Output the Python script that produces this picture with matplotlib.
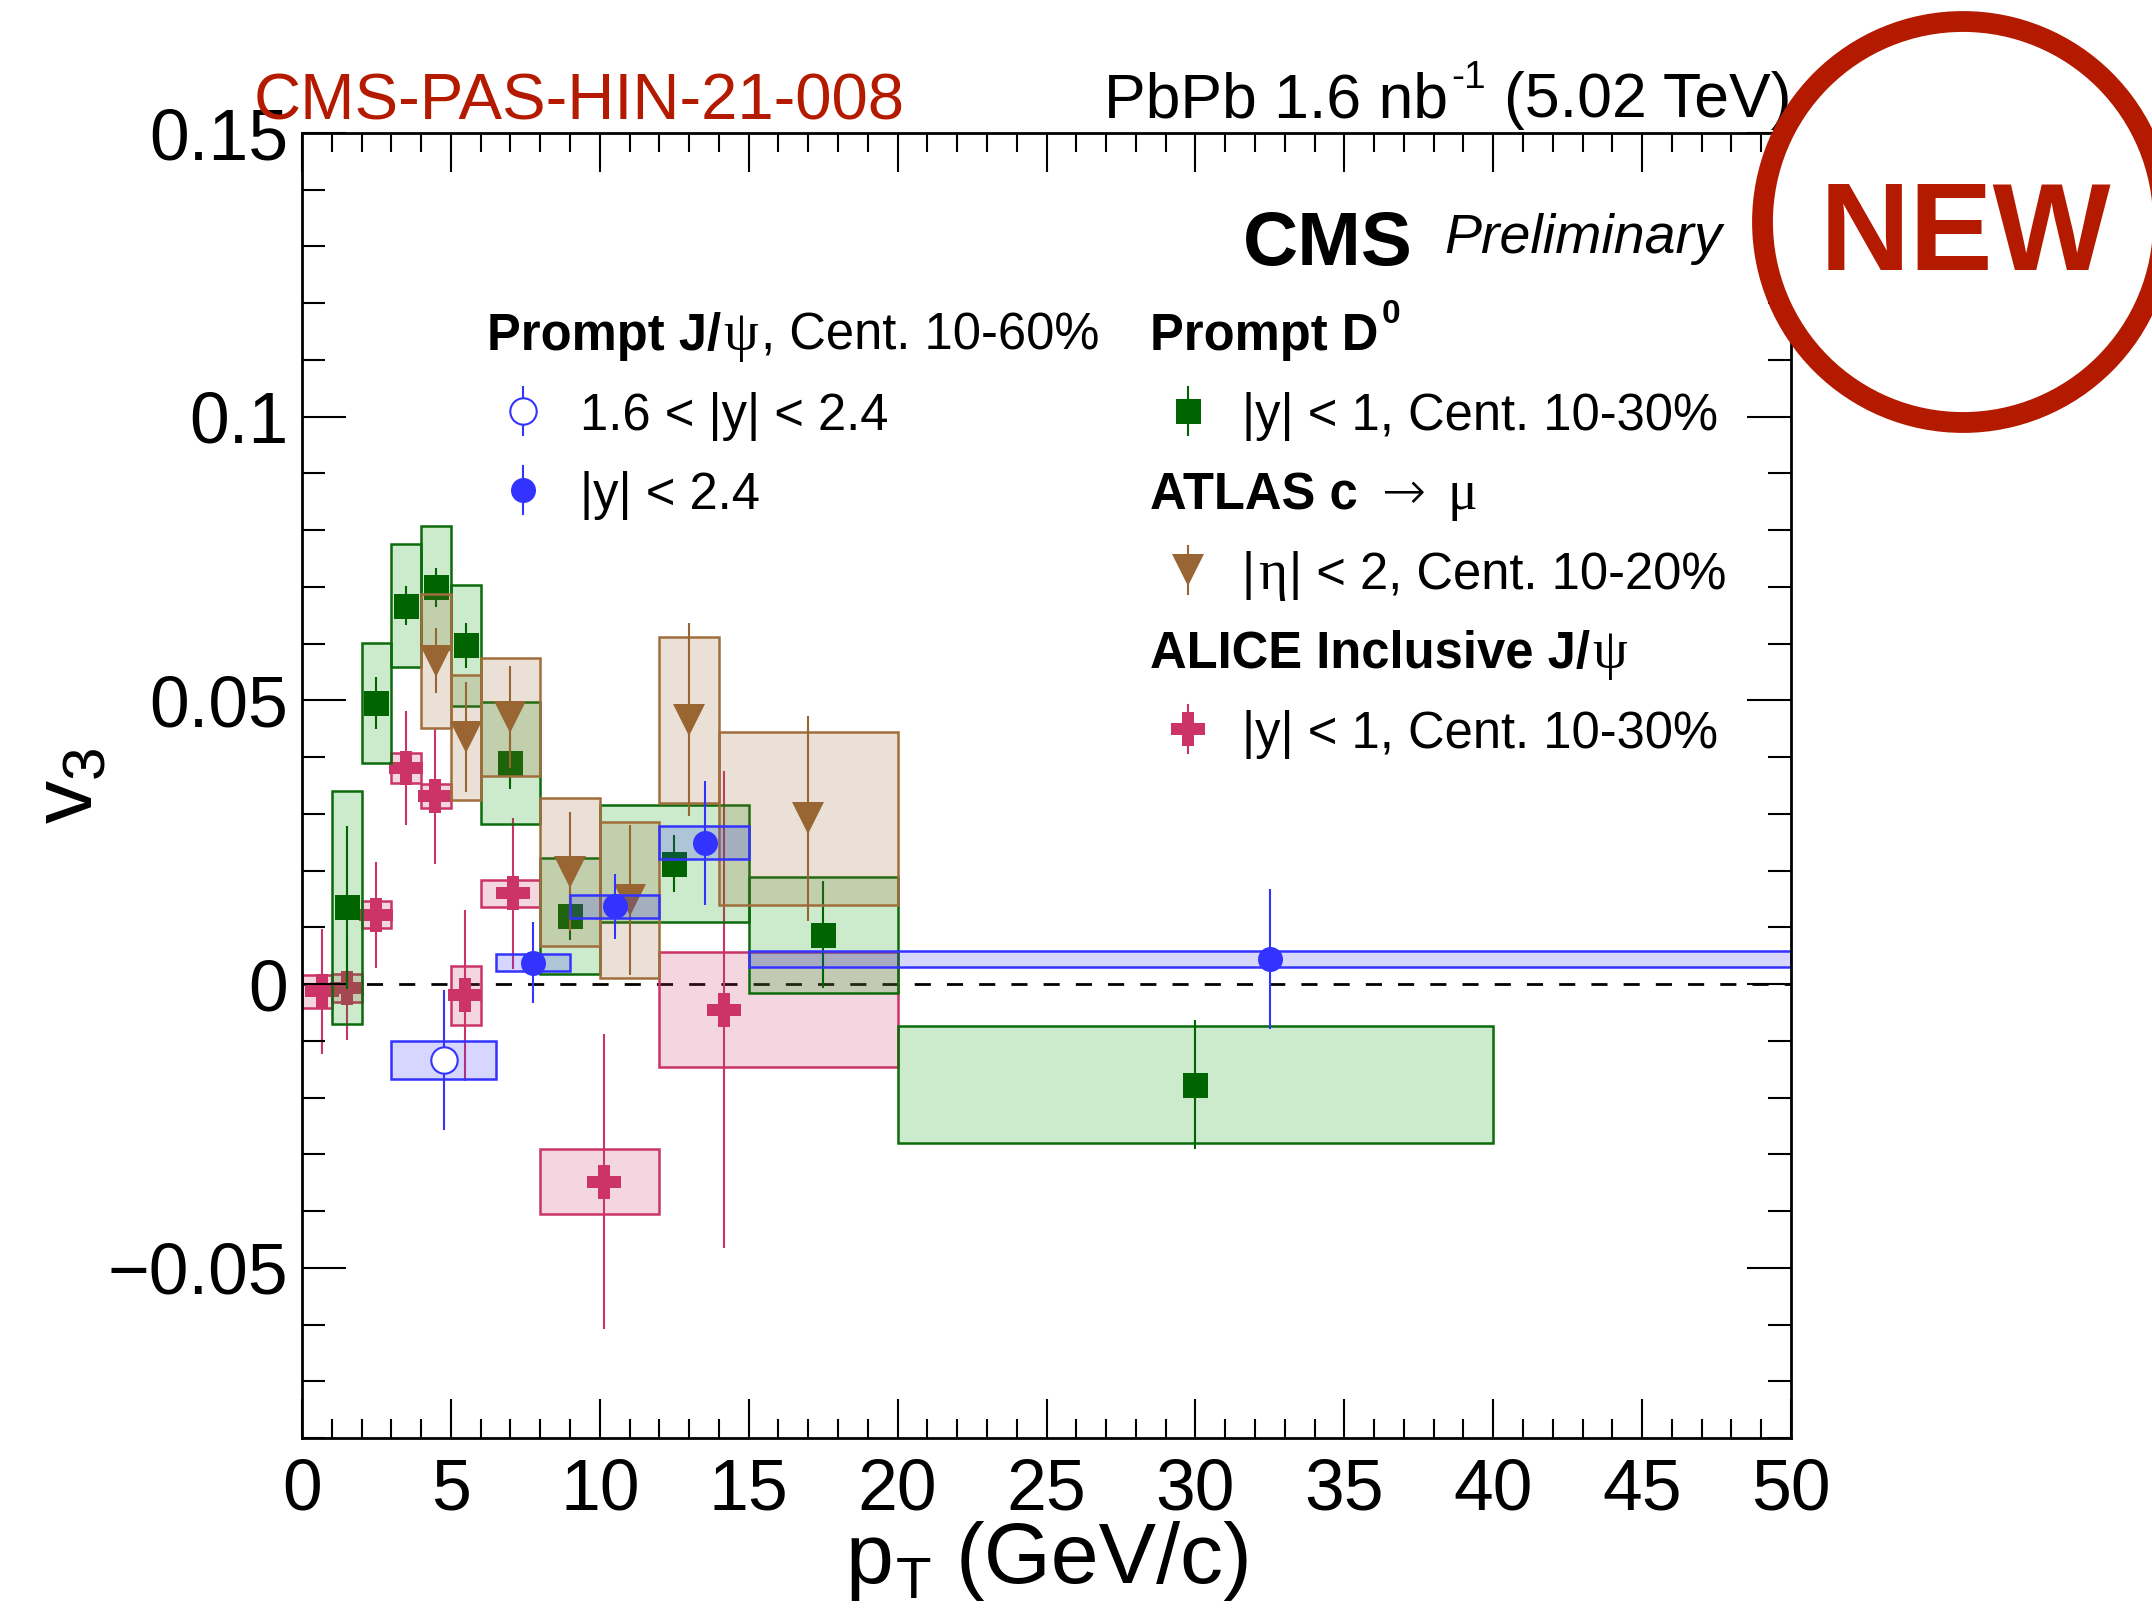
import numpy as np
import matplotlib
matplotlib.use("Agg")
import matplotlib.pyplot as plt
from matplotlib.patches import Circle
from matplotlib.ticker import MultipleLocator, FixedLocator, FixedFormatter

plt.rcParams['font.family'] = ['Liberation Sans', 'DejaVu Sans']
plt.rcParams['mathtext.fontset'] = 'custom'
plt.rcParams['mathtext.rm'] = 'Liberation Sans'
plt.rcParams['mathtext.it'] = 'Liberation Sans:italic'
plt.rcParams['mathtext.bf'] = 'Liberation Sans:bold'

# ---------------- data ----------------
# CMS prompt D0, |y| < 1, Cent. 10-30%
d0_pt = [1.5, 2.5, 3.5, 4.5, 5.5, 7.0, 9.0, 12.5, 17.5, 30.0]
d0_lo = [1, 2, 3, 4, 5, 6, 8, 10, 15, 20]
d0_hi = [2, 3, 4, 5, 6, 8, 10, 15, 20, 40]
d0_v3 = [0.0135, 0.0495, 0.0667, 0.0699, 0.0597, 0.0390, 0.0120, 0.0212, 0.0087, -0.0177]
d0_stat = [0.0143, 0.0046, 0.0034, 0.0035, 0.0040, 0.0046, 0.0043, 0.0050, 0.0094, 0.0114]
d0_syst = [0.0205, 0.0106, 0.0108, 0.0108, 0.0107, 0.0107, 0.0103, 0.0103, 0.0102, 0.0103]

# ATLAS c -> mu, |eta| < 2, Cent. 10-20%
mu_pt = [4.5, 5.5, 7.0, 9.0, 11.0, 13.0, 17.0]
mu_lo = [4, 5, 6, 8, 10, 12, 14]
mu_hi = [5, 6, 8, 10, 12, 14, 20]
mu_v3 = [0.0570, 0.0435, 0.0470, 0.0198, 0.0148, 0.0466, 0.0292]
mu_stat = [0.0057, 0.0097, 0.0090, 0.0105, 0.0132, 0.0170, 0.0180]
mu_syst = [0.0118, 0.0110, 0.0104, 0.0130, 0.0137, 0.0146, 0.0152]

# CMS prompt J/psi, |y| < 2.4, Cent. 10-60%
jp_pt = [7.77, 10.52, 13.52, 32.5]
jp_lo = [6.5, 9, 12, 15]
jp_hi = [9, 12, 15, 50]
jp_v3 = [0.0038, 0.0137, 0.0249, 0.0044]
jp_stat = [0.0072, 0.0057, 0.0109, 0.0124]
jp_syst = [0.0015, 0.0020, 0.0029, 0.0014]

# CMS prompt J/psi, 1.6 < |y| < 2.4, Cent. 10-60%
jpf_pt = [4.77]
jpf_lo = [3.0]
jpf_hi = [6.5]
jpf_v3 = [-0.0134]
jpf_stat = [0.0124]
jpf_syst = [0.0033]

# ALICE inclusive J/psi, |y| < 1, Cent. 10-30%
al_pt = [0.66, 1.5, 2.49, 3.48, 4.47, 5.47, 7.1, 10.14, 14.16]
al_lo = [0, 1, 2, 3, 4, 5, 6, 8, 12]
al_hi = [1, 2, 3, 4, 5, 6, 8, 12, 20]
al_v3 = [-0.0013, -0.0007, 0.0122, 0.0381, 0.0331, -0.0020, 0.0160, -0.0348, -0.0045]
al_stat = [0.0110, 0.0092, 0.0093, 0.0100, 0.0120, 0.0150, 0.0133, 0.0260, 0.0420]
al_syst = [0.0029, 0.0025, 0.0024, 0.0027, 0.0021, 0.0052, 0.0024, 0.0057, 0.0102]

x_ticks = [0, 5, 10, 15, 20, 25, 30, 35, 40, 45, 50]
x_ticklabels = ["0", "5", "10", "15", "20", "25", "30", "35", "40", "45", "50"]
y_ticks = [-0.05, 0.0, 0.05, 0.1, 0.15]
y_ticklabels = ["\u22120.05", "0", "0.05", "0.1", "0.15"]

# ---------------- style ----------------
GREEN = '#006400'
GREEN_EDGE = '#0b6b0b'
GREEN_FILL = (0.0, 0.6, 0.0, 0.2)
BROWN = '#996633'
BROWN_EDGE = '#a06e3c'
BROWN_FILL = (0.6, 0.4, 0.2, 0.2)
BLUE = '#3333ff'
BLUE_FILL = (0.2, 0.2, 1.0, 0.2)
PINK = '#cc3366'
PINK_FILL = (0.8, 0.2, 0.4, 0.2)
RED = '#b41a00'

W, H = 2152, 1613
fig = plt.figure(figsize=(W / 100, H / 100), dpi=100)
ax = fig.add_axes([302 / W, 1 - 1438 / H, (1791 - 302) / W, (1438 - 133) / H])
ax.set_xlim(0, 50)
ax.set_ylim(-0.08, 0.15)

ax.axhline(0, color='k', lw=2, ls=(0, (5.8, 5.8)), zorder=1)


def draw_series(pt, lo, hi, v, stat, syst, color, fill, edge, marker, ms, z,
                mfc=None, mew=0.0):
    lo = np.asarray(lo, float)
    hi = np.asarray(hi, float)
    v = np.asarray(v, float)
    syst = np.asarray(syst, float)
    ax.bar(lo, 2 * syst, width=hi - lo, bottom=v - syst, align='edge',
           color=fill, edgecolor=edge, linewidth=1.8, zorder=z)
    ax.errorbar(pt, v, yerr=stat, fmt='none', ecolor=color, elinewidth=1.5,
                capsize=0, zorder=z + 0.1)
    ax.plot(pt, v, ls='none', marker=marker, ms=ms, color=color,
            mfc=mfc if mfc is not None else color, mec=color, mew=mew,
            zorder=z + 0.2)


draw_series(al_pt, al_lo, al_hi, al_v3, al_stat, al_syst, PINK, PINK_FILL, PINK, 'P', 24.5, 2)
draw_series(d0_pt, d0_lo, d0_hi, d0_v3, d0_stat, d0_syst, GREEN, GREEN_FILL, GREEN_EDGE, 's', 18, 3)
draw_series(mu_pt, mu_lo, mu_hi, mu_v3, mu_stat, mu_syst, BROWN, BROWN_FILL, BROWN_EDGE, 'v', 23.5, 4)
draw_series(jpf_pt, jpf_lo, jpf_hi, jpf_v3, jpf_stat, jpf_syst, BLUE, BLUE_FILL, BLUE, 'o', 19, 5,
            mfc='white', mew=1.5)
draw_series(jp_pt, jp_lo, jp_hi, jp_v3, jp_stat, jp_syst, BLUE, BLUE_FILL, BLUE, 'o', 18, 6)

# axes frame and ticks
ax.xaxis.set_major_locator(FixedLocator(x_ticks))
ax.xaxis.set_major_formatter(FixedFormatter(x_ticklabels))
ax.xaxis.set_minor_locator(MultipleLocator(1))
ax.yaxis.set_major_locator(FixedLocator(y_ticks))
ax.yaxis.set_major_formatter(FixedFormatter(y_ticklabels))
ax.yaxis.set_minor_locator(MultipleLocator(0.01))
ax.tick_params(which='both', direction='in', top=True, right=True, width=1.5,
               labelsize=51.5, color='k')
ax.tick_params(axis='y', which='major', length=32, pad=10)
ax.tick_params(axis='y', which='minor', length=16.5)
ax.tick_params(axis='x', which='major', length=28, pad=14)
ax.tick_params(axis='x', which='minor', length=14)
for spn in ax.spines.values():
    spn.set_linewidth(2.0)
    spn.set_zorder(10)
ax.xaxis.set_zorder(10)
ax.yaxis.set_zorder(10)

# ---------------- overlay in pixel coordinates for text and legend ----------------
ov = fig.add_axes([0, 0, 1, 1], zorder=5)
ov.set_xlim(0, W)
ov.set_ylim(H, 0)
ov.axis('off')
ov.patch.set_visible(False)

renderer = fig.canvas.get_renderer()


def runs(x, y, parts, ha='left'):
    """Place consecutive text pieces with different fonts on one baseline."""
    arts = []
    cur = x
    for s, kw, dy, gap in parts:
        cur += gap
        t = ov.text(cur, y - dy, s, va='baseline', ha='left', **kw)
        cur += t.get_window_extent(renderer=renderer).width
        arts.append(t)
    total = cur - x
    shift = {'left': 0.0, 'center': total / 2.0, 'right': total}[ha]
    for t in arts:
        t.set_x(t.get_position()[0] - shift)
    return arts


LS = 36.5
PX = 100 / 72.0
reg = dict(fontsize=LS)
bold = dict(fontsize=LS, weight='bold')
greek = dict(fontsize=40, family=['Liberation Serif', 'DejaVu Serif'])
tight = 0.05 * LS * PX

# top labels
ov.text(254, 119, 'CMS-PAS-HIN-21-008', fontsize=47, color=RED, va='baseline', ha='left')
runs(1791, 117, [('PbPb 1.6 nb', dict(fontsize=45), 0, 0),
                 ('-1', dict(fontsize=28), 29, 4),
                 ('(5.02 TeV)', dict(fontsize=45), 0, 0.278 * 45 * PX)], ha='right')
ov.text(1243, 265, 'CMS', fontsize=55, weight='bold', va='baseline', ha='left')
ov.text(1444, 253, 'Preliminary', fontsize=40, style='italic', va='baseline', ha='left')

# legend texts
runs(487, 350, [('Prompt J/', bold, 0, 0), ('\u03c8', greek, 0, tight),
                (', Cent. 10-60%', reg, 0, tight)])
ov.text(580, 430, '1.6 < |y| < 2.4', va='baseline', ha='left', **reg)
ov.text(580, 509, '|y| < 2.4', va='baseline', ha='left', **reg)

runs(1150, 350, [('Prompt D', bold, 0, 0), ('0', dict(fontsize=24, weight='bold'), 27, 3)])
ov.text(1242, 430, '|y| < 1, Cent. 10-30%', va='baseline', ha='left', **reg)
runs(1150, 509, [('ATLAS c', bold, 0, 0),
                 ('\u2192', dict(fontsize=38, family=['DejaVu Sans'], weight='light'), 0, 24),
                 ('\u03bc', greek, 0, 22)])
runs(1242, 589, [('|', reg, 0, 0), ('\u03b7', greek, 0, tight),
                 ('| < 2, Cent. 10-20%', reg, 0, tight)])
runs(1150, 668, [('ALICE Inclusive J/', bold, 0, 0), ('\u03c8', greek, 0, tight)])
ov.text(1242, 748, '|y| < 1, Cent. 10-30%', va='baseline', ha='left', **reg)

# legend markers with their error-bar stubs
legend_marks = [
    (523, 411, BLUE, 'o', 19, 'white', 1.5),
    (523, 490, BLUE, 'o', 18, BLUE, 0),
    (1188, 411, GREEN, 's', 18, GREEN, 0),
    (1188, 570, BROWN, 'v', 23.5, BROWN, 0),
    (1188, 729, PINK, 'P', 24.5, PINK, 0),
]
for mx, my, c, m, ms, fc, mew in legend_marks:
    ov.plot([mx, mx], [my - 24, my + 24], color=c, lw=1.5, zorder=6)
    ov.plot([mx], [my], marker=m, ms=ms, color=c, mfc=fc, mec=c, mew=mew, zorder=7)

# axis titles
runs(1049, 1583, [('p', dict(fontsize=62), 0, 0),
                  ('T', dict(fontsize=42), -15, 3),
                  ('(GeV/c)', dict(fontsize=62), 0, 0.278 * 62 * PX)], ha='center')
ov.text(92, 786, 'v$_{3}$', fontsize=62, rotation=90, rotation_mode='anchor',
        ha='center', va='baseline')

# NEW stamp
ov.add_patch(Circle((1963, 222), 200.5, facecolor='white', edgecolor=RED, lw=15, zorder=10))
ov.text(1965, 270, 'NEW', fontsize=90, weight='bold', color=RED, ha='center',
        va='baseline', zorder=11)

fig.savefig('out.png', dpi=100)
